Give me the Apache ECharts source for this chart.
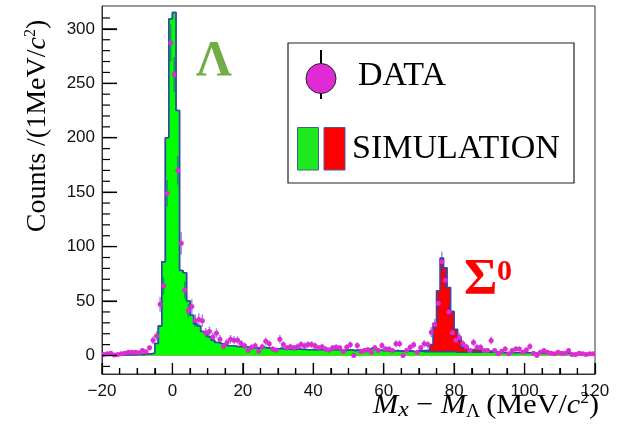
<!DOCTYPE html>
<html><head><meta charset="utf-8">
<script src="https://cdn.jsdelivr.net/npm/echarts@6/dist/echarts.min.js"></script>
<style>html,body{margin:0;padding:0;background:#fff}#c{width:620px;height:436px}</style>
</head><body><div id="c"></div>
<script>
const xMin = -20, xMax = 120, binWidth = 1;
const yAxisMin = -17, yAxisMax = 321;
const xTickLabels = [-20, 0, 20, 40, 60, 80, 100, 120];
const xMinorTicks = [-15, -10, -5, 5, 10, 15, 25, 30, 35, 45, 50, 55, 65, 70, 75, 85, 90, 95, 105, 110, 115];
const yMajorTicks = [0, 50, 100, 150, 200, 250, 300];
const yMinorTicks = [-10, 10, 20, 30, 40, 60, 70, 80, 90, 110, 120, 130, 140, 160, 170, 180, 190, 210, 220, 230, 240, 260, 270, 280, 290, 310];

// Lambda simulation, 1 MeV bins from -20 to 120
const lambdaSim = [
  0.5,0.5,0.5,0.5,0.5,0.5,0.5,0.7,0.8,0.8,1,1,
  1.5,1.5,2,11,27,86,200,309,
  315,225,78,76,50,37,29,27,22,20,17,14,12,11,10,9,9,8.5,8,8,
  8,7.5,7,7,7,7.5,7,6.5,6,6,6.5,6,6,5.5,5.5,6,5.5,5.5,5,5.5,
  5,5.5,5,5,5,5.5,5,5,4.5,5,5,4.5,5,5,6,5.5,7,6,5,4.5,
  4.5,4.5,4,4.5,4,4,4,4,3.5,4,4,3.5,3.5,3.5,3.5,3.5,3.5,3.5,3.5,3.5,
  3,3,3,3,3,3,3,3,3,3,3,3,2.5,2.5,2.5,2.5,2.5,2.5,2.5,2.5,
  2.5,2.5,2,2,2,2,2,2,2,2,2,2,2,1.5,1.5,1.5,1.5,1.5,1.5,1.5
];
// Sigma0 simulation (stacked on Lambda), bins starting at 70 MeV
const sigmaStart = 70;
const sigmaSim = [0.5,1,1.5,6.5,26,56,86,77,59,37,21,13,4.5,4.5,2.5,2.5,2,2,1,1,1,1];
// Data counts, bin centres -19.5 ... 119.5
const dataCounts = [
  1,1.5,2,0.5,1,1.5,2,3,3,3,
  2.5,4.5,3.5,7,14,18,47,64,149,287,
  258,170,103,60,41,45,32,33,32,21,
  22,17,20.5,15,8.5,12,15,14,14,11,
  9,4.6,7.6,9,4,8,13,10.7,6,5,
  15,10,7,8,7,8,10,9,10,10,
  9,7,8,6,5,7,7.5,7,3.7,7.6,
  9.8,0,9.2,3.7,4.6,5.2,3,7,4.6,9.2,
  6,6,4.6,10.7,10.7,0,4.6,7.6,9.8,3,
  7,10.7,10,21.4,28.5,48,86,69,40,21,
  14,16.5,10.7,8,4.6,12,7.6,7.6,4.6,4.6,
  13.8,4.6,1.5,4,6,1.5,4.6,6,6,3,
  5,8.3,2,0,3,4.6,3,2,1.5,3,
  2,2,4.6,1,1,2,1.5,1,1.5,1.5
];

function stepPoints(vals) {
  const pts = vals.map((v, i) => [xMin + i * binWidth, v]);
  pts.push([xMax, vals[vals.length - 1]]);
  return pts;
}
const stackTotal = lambdaSim.map((v, i) => {
  const b = xMin + i * binWidth - sigmaStart;
  return v + ((b >= 0 && b < sigmaSim.length) ? sigmaSim[b] : 0);
});
const dataPts = dataCounts.map((v, i) => [xMin + (i + 0.5) * binWidth, v]);

const magenta = '#e02ad6';
const outline = '#3348a8';
const serif = '"Liberation Serif", "DejaVu Serif", serif';
const tickColor = '#000';

// tick marks positioned through the axes' scales
function tickSeries(name, pts, vertical, len) {
  return {
    type: 'custom', name: name, data: pts, z: 6, clip: false, silent: true,
    renderItem: function (params, api) {
      const p = api.coord([api.value(0), api.value(1)]);
      const shape = vertical
        ? {x1: p[0], y1: p[1], x2: p[0], y2: p[1] - len}
        : {x1: p[0], y1: p[1], x2: p[0] + len, y2: p[1]};
      return {type: 'line', shape: shape, style: {stroke: tickColor, lineWidth: 1.2}};
    }
  };
}

const chart = echarts.init(document.getElementById('c'));
chart.setOption({
  animation: false,
  textStyle: {fontFamily: '"Liberation Sans", Arial, sans-serif'},
  grid: {left: 102, right: 25, top: 6, bottom: 62, show: true, borderColor: '#333', borderWidth: 1},
  xAxis: {
    type: 'value', min: xMin, max: xMax, interval: 20,
    axisLine: {show: true, onZero: false, lineStyle: {color: '#333'}},
    axisTick: {show: true, inside: true, length: 11, lineStyle: {color: tickColor, width: 1.2}},
    minorTick: {show: true, splitNumber: 4, length: 6, lineStyle: {color: tickColor, width: 1.2}},
    axisLabel: {fontSize: 17, color: '#111', margin: 9, formatter: v => String(v).replace('-', '\u2212')},
    splitLine: {show: false}
  },
  yAxis: {
    type: 'value', min: yAxisMin, max: yAxisMax,
    axisLine: {show: true, onZero: false, lineStyle: {color: '#333'}},
    axisTick: {show: true, inside: true, length: 15, customValues: yMajorTicks, lineStyle: {color: tickColor, width: 1.2}},
    axisLabel: {customValues: yMajorTicks, fontSize: 17, color: '#111', margin: 7},
    splitLine: {show: false}
  },
  series: [{
    type: 'line', name: 'Sigma', data: stepPoints(stackTotal), step: 'end', symbol: 'none',
    lineStyle: {color: outline, width: 1.6},
    areaStyle: {color: '#ff0000', opacity: 1, origin: 0}, z: 2
  }, {
    type: 'line', name: 'Lambda', data: stepPoints(lambdaSim), step: 'end', symbol: 'none',
    lineStyle: {color: outline, width: 1.6},
    areaStyle: {color: '#00ff00', opacity: 1, origin: 0}, z: 3
  }, {
    type: 'custom', name: 'DATA', data: dataPts, z: 5, clip: true,
    renderItem: function (params, api) {
      const x = api.value(0), y = api.value(1);
      const e = Math.sqrt(Math.max(y, 0));
      const p = api.coord([x, y]);
      const t = api.coord([x, y + e]);
      const b = api.coord([x, y - e]);
      const l = api.coord([x - binWidth / 2, y]);
      const r = api.coord([x + binWidth / 2, y]);
      return {type: 'group', children: [
        {type: 'line', shape: {x1: p[0], y1: t[1], x2: p[0], y2: b[1]}, style: {stroke: 'rgba(55,55,200,0.55)', lineWidth: 1.5}},
        {type: 'line', shape: {x1: l[0], y1: p[1], x2: r[0], y2: p[1]}, style: {stroke: magenta, lineWidth: 1.5}},
        {type: 'circle', shape: {cx: p[0], cy: p[1], r: 2.5}, style: {fill: magenta}}
      ]};
    }
  },
  tickSeries('xMajor', xTickLabels.map(v => [v, yAxisMin]), true, 11),
  tickSeries('xMinor', xMinorTicks.map(v => [v, yAxisMin]), true, 6),
  tickSeries('yMajor', yMajorTicks.map(v => [xMin, v]), false, 15),
  tickSeries('yMinor', yMinorTicks.map(v => [xMin, v]), false, 8)
  ],
  graphic: [
    {type: 'rect', shape: {x: 288, y: 43, width: 286, height: 140}, style: {fill: '#fff', stroke: '#222', lineWidth: 1.2}, z: 10},
    {type: 'line', shape: {x1: 321, y1: 50, x2: 321, y2: 99}, style: {stroke: '#000', lineWidth: 2}, z: 11},
    {type: 'circle', shape: {cx: 321, cy: 78.5, r: 15}, style: {fill: magenta, stroke: '#222', lineWidth: 1}, z: 12},
    {type: 'text', x: 358, y: 59, z: 12, style: {text: 'DATA', font: '34px ' + serif, fill: '#000', align: 'left', verticalAlign: 'top'}},
    {type: 'rect', shape: {x: 297.5, y: 127.5, width: 21, height: 42.5}, style: {fill: '#1ee81e', stroke: '#4060a0', lineWidth: 1}, z: 12},
    {type: 'rect', shape: {x: 324, y: 127.5, width: 21, height: 42.5}, style: {fill: '#ff0000', stroke: '#4060a0', lineWidth: 1}, z: 12},
    {type: 'text', x: 352, y: 132, z: 12, style: {text: 'SIMULATION', font: '34px ' + serif, fill: '#000', align: 'left', verticalAlign: 'top'}},
    {type: 'text', x: 196, y: 37, z: 12, style: {text: '\u039B', font: 'bold 50px ' + serif, fill: '#70ad47', align: 'left', verticalAlign: 'top'}},
    {type: 'text', x: 464, y: 254, z: 12, style: {text: '\u03A3', font: 'bold 51px ' + serif, fill: '#ff0000', align: 'left', verticalAlign: 'top'}},
    {type: 'text', x: 497, y: 257, z: 12, style: {text: '0', font: 'bold 30px ' + serif, fill: '#ff0000', align: 'left', verticalAlign: 'top'}},
    {type: 'text', x: 373, y: 391, scaleX: 1.08, z: 12, style: {
      text: '{mi|M}{sb|x}{n| \u2212 }{mi|M}{sl|\u039B}{n|\u2009(MeV/}{mi|c}{sp|2}{n|)}',
      align: 'left', verticalAlign: 'top', fill: '#000',
      rich: {
        mi: {fontFamily: serif, fontStyle: 'italic', fontSize: 28, lineHeight: 30, fill: '#000'},
        n: {fontFamily: serif, fontSize: 28, lineHeight: 30, fill: '#000'},
        sb: {fontFamily: serif, fontStyle: 'italic', fontSize: 22, lineHeight: 22, verticalAlign: 'bottom', fill: '#000'},
        sl: {fontFamily: serif, fontSize: 18, lineHeight: 12, verticalAlign: 'bottom', fill: '#000'},
        sp: {fontFamily: serif, fontSize: 16, lineHeight: 16, verticalAlign: 'top', fill: '#000'}
      }
    }},
    {type: 'text', x: 38, y: 126, rotation: Math.PI / 2, z: 12, style: {
      text: '{n|Counts /(1MeV/}{mi|c}{sp|2}{n|)}',
      align: 'center', verticalAlign: 'middle', fill: '#000',
      rich: {
        mi: {fontFamily: serif, fontStyle: 'italic', fontSize: 28, lineHeight: 30, fill: '#000'},
        n: {fontFamily: serif, fontSize: 28, lineHeight: 30, fill: '#000'},
        sp: {fontFamily: serif, fontSize: 16, lineHeight: 16, verticalAlign: 'top', fill: '#000'}
      }
    }}
  ]
});
</script>
</body></html>
